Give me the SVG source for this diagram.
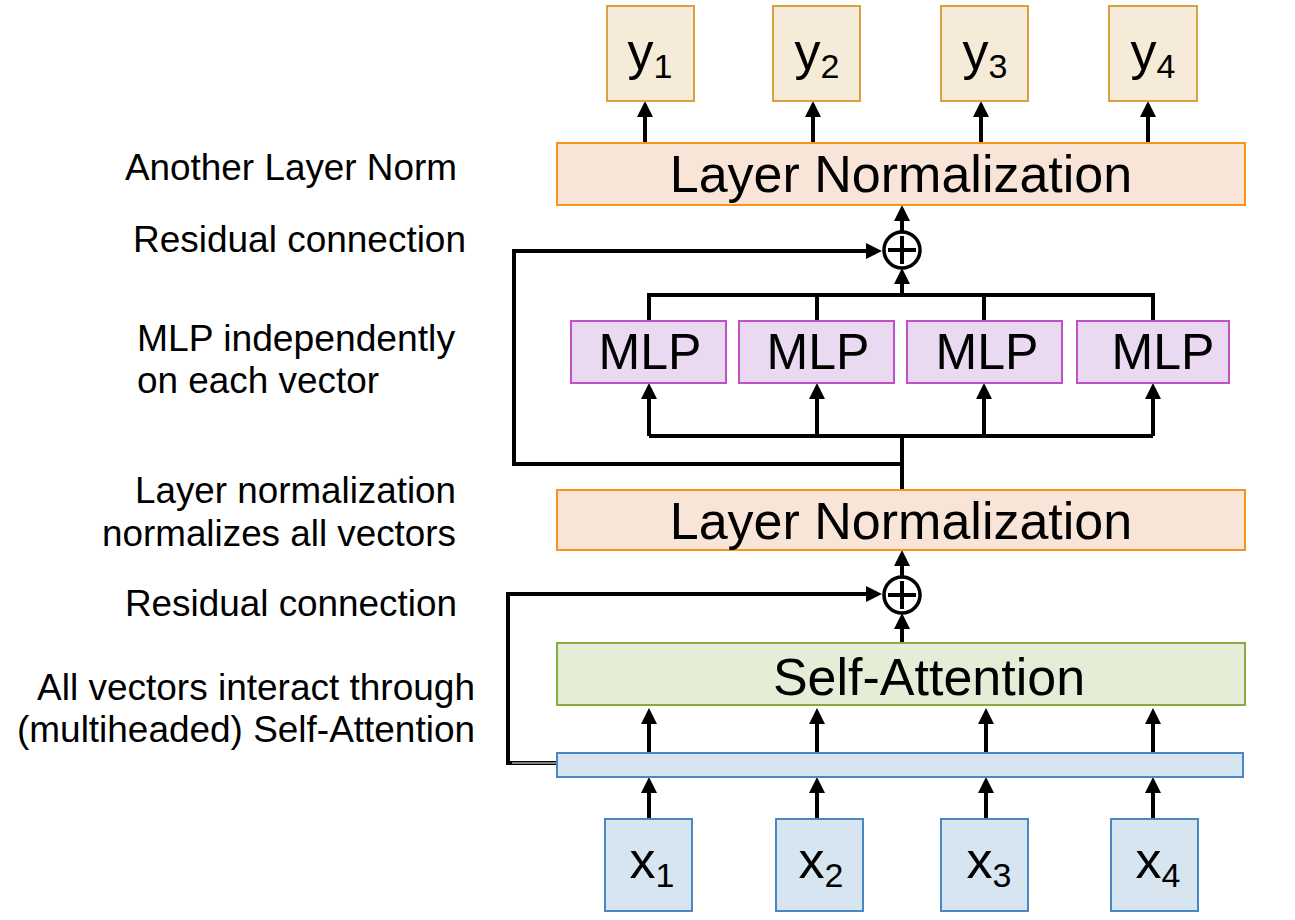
<svg xmlns="http://www.w3.org/2000/svg" width="1295" height="920" viewBox="0 0 1295 920">
<defs>
<marker id="ah" markerUnits="userSpaceOnUse" markerWidth="16" markerHeight="16" viewBox="0 0 16 16" refX="6" refY="8" orient="auto"><path d="M0,0 L16,8 L0,16 Z" fill="#000"/></marker>
</defs>
<style>
text{font-family:"Liberation Sans",Arial,Helvetica,sans-serif;fill:#000}
.big{font-size:52px}
.mlpt{font-size:50px}
.lbl{font-size:36px}
.sub{font-size:34px}
.ybox{fill:#f6ead8;stroke:#d9a23e;stroke-width:2}
.ln{fill:#f9e5d7;stroke:#f7941d;stroke-width:2}
.mlp{fill:#e9d9f1;stroke:#c050c8;stroke-width:2}
.sa{fill:#e5edd6;stroke:#8aab44;stroke-width:2}
.blue{fill:#d6e5f0;stroke:#4a88c4;stroke-width:2}
.w{fill:none;stroke:#000;stroke-width:4}
.a{fill:none;stroke:#000;stroke-width:4;marker-end:url(#ah)}
.plus{fill:#fff;stroke:#000;stroke-width:3.5}
</style>
<rect width="1295" height="920" fill="#fff"/>

<g id="connectors">
  <!-- LN1 -> y -->
  <path class="a" d="M645,143 V111"/>
  <path class="a" d="M813,143 V111"/>
  <path class="a" d="M981,143 V111"/>
  <path class="a" d="M1148,143 V111"/>
  <!-- plus1 -> LN1 -->
  <path class="a" d="M902,232 V215"/>
  <!-- residual 1 -->
  <path class="w" d="M902,490 V436"/>
  <path class="a" d="M902,464 H514 V251 H872"/>
  <!-- bus below MLP -->
  <path class="w" d="M649,436 H1153"/>
  <path class="a" d="M649,436 V393"/>
  <path class="a" d="M817,436 V393"/>
  <path class="a" d="M984,436 V393"/>
  <path class="a" d="M1153,436 V393"/>
  <!-- bus above MLP -->
  <path class="w" d="M649,321 V295 H1153 V321"/>
  <path class="w" d="M817,321 V295"/>
  <path class="w" d="M984,321 V295"/>
  <path class="a" d="M902,295 V278"/>
  <!-- lower block -->
  <path class="a" d="M902,643 V623"/>
  <path class="a" d="M902,577 V560"/>
  <path class="a" d="M557,763 H508 V594 H872"/>
  <path d="M512,763 H556" stroke="#fff" stroke-width="1" fill="none"/>
  <!-- bar -> SA -->
  <path class="a" d="M649,753 V718"/>
  <path class="a" d="M817,753 V718"/>
  <path class="a" d="M986,753 V718"/>
  <path class="a" d="M1153,753 V718"/>
  <!-- x -> bar -->
  <path class="a" d="M649,819 V787"/>
  <path class="a" d="M817,819 V787"/>
  <path class="a" d="M986,819 V787"/>
  <path class="a" d="M1153,819 V787"/>
</g>

<g id="y1"><rect class="ybox" x="607" y="6" width="87" height="95"/><text class="big" x="650" y="69" text-anchor="middle">y<tspan class="sub" dy="9">1</tspan></text></g>
<g id="y2"><rect class="ybox" x="773" y="6" width="87" height="95"/><text class="big" x="817" y="69" text-anchor="middle">y<tspan class="sub" dy="9">2</tspan></text></g>
<g id="y3"><rect class="ybox" x="941" y="6" width="87" height="95"/><text class="big" x="985" y="69" text-anchor="middle">y<tspan class="sub" dy="9">3</tspan></text></g>
<g id="y4"><rect class="ybox" x="1109" y="6" width="88" height="95"/><text class="big" x="1153" y="69" text-anchor="middle">y<tspan class="sub" dy="9">4</tspan></text></g>

<g id="layernorm2"><rect class="ln" x="557" y="143" width="688" height="62"/><text class="big" x="901" y="192" text-anchor="middle">Layer Normalization</text></g>

<g id="plus2"><circle class="plus" cx="902" cy="250" r="18"/><path d="M888,250 H916 M902,236 V264" stroke="#000" stroke-width="4"/></g>

<g id="mlp1"><rect class="mlp" x="571" y="321" width="155" height="62"/><text class="mlpt" x="650" y="369" text-anchor="middle">MLP</text></g>
<g id="mlp2"><rect class="mlp" x="739" y="321" width="155" height="62"/><text class="mlpt" x="818" y="369" text-anchor="middle">MLP</text></g>
<g id="mlp3"><rect class="mlp" x="907" y="321" width="155" height="62"/><text class="mlpt" x="987" y="369" text-anchor="middle">MLP</text></g>
<g id="mlp4"><rect class="mlp" x="1077" y="321" width="152" height="62"/><text class="mlpt" x="1163" y="369" text-anchor="middle">MLP</text></g>

<g id="layernorm1"><rect class="ln" x="557" y="490" width="688" height="60"/><text class="big" x="901" y="539" text-anchor="middle">Layer Normalization</text></g>

<g id="plus1"><circle class="plus" cx="902" cy="595" r="18"/><path d="M888,595 H916 M902,581 V609" stroke="#000" stroke-width="4"/></g>

<g id="selfattention"><rect class="sa" x="557" y="643" width="688" height="62"/><text class="big" x="929" y="695" text-anchor="middle">Self-Attention</text></g>

<g id="inputbar"><rect class="blue" x="557" y="753" width="686" height="24"/></g>

<g id="x1"><rect class="blue" x="605" y="819" width="87" height="92"/><text class="big" x="652" y="878" text-anchor="middle">x<tspan class="sub" dy="9">1</tspan></text></g>
<g id="x2"><rect class="blue" x="776" y="819" width="87" height="92"/><text class="big" x="821" y="878" text-anchor="middle">x<tspan class="sub" dy="9">2</tspan></text></g>
<g id="x3"><rect class="blue" x="941" y="819" width="87" height="92"/><text class="big" x="989" y="878" text-anchor="middle">x<tspan class="sub" dy="9">3</tspan></text></g>
<g id="x4"><rect class="blue" x="1111" y="819" width="87" height="92"/><text class="big" x="1158" y="878" text-anchor="middle">x<tspan class="sub" dy="9">4</tspan></text></g>

<g id="annotations">
  <text class="lbl" x="125" y="180" textLength="332" lengthAdjust="spacingAndGlyphs">Another Layer Norm</text>
  <text class="lbl" x="133" y="252" textLength="333" lengthAdjust="spacingAndGlyphs">Residual connection</text>
  <text class="lbl" x="137" y="351" textLength="318" lengthAdjust="spacingAndGlyphs">MLP independently</text>
  <text class="lbl" x="137" y="393" textLength="242" lengthAdjust="spacingAndGlyphs">on each vector</text>
  <text class="lbl" x="135" y="503" textLength="321" lengthAdjust="spacingAndGlyphs">Layer normalization</text>
  <text class="lbl" x="102" y="546" textLength="354" lengthAdjust="spacingAndGlyphs">normalizes all vectors</text>
  <text class="lbl" x="125" y="616" textLength="332" lengthAdjust="spacingAndGlyphs">Residual connection</text>
  <text class="lbl" x="37" y="700" textLength="438" lengthAdjust="spacingAndGlyphs">All vectors interact through</text>
  <text class="lbl" x="17" y="742" textLength="458" lengthAdjust="spacingAndGlyphs">(multiheaded) Self-Attention</text>
</g>
</svg>
